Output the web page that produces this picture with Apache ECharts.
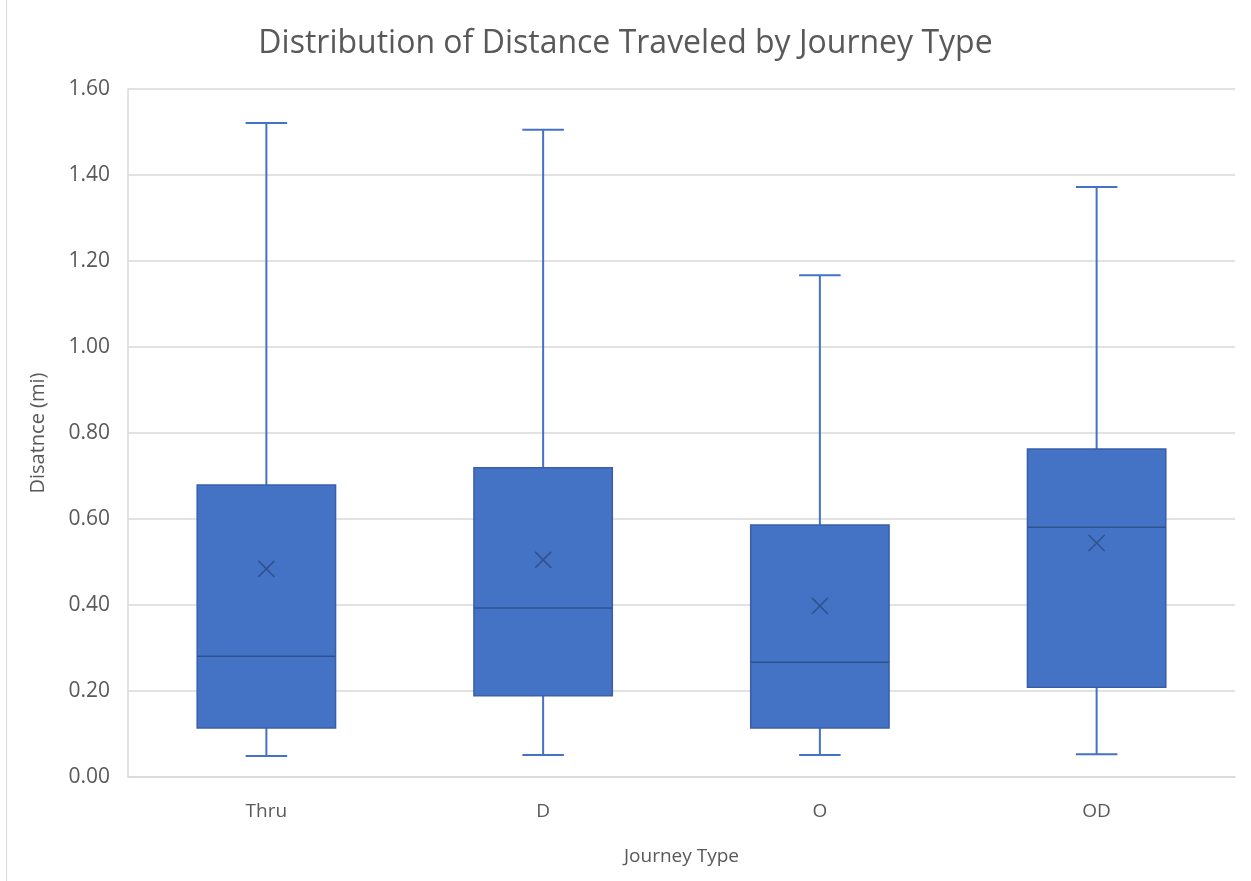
<!DOCTYPE html>
<html>
<head>
<meta charset="utf-8">
<title>Distribution of Distance Traveled by Journey Type</title>
<script src="https://cdn.jsdelivr.net/npm/echarts@6/dist/echarts.min.js"></script>
<style>
  html, body { margin: 0; padding: 0; background: #ffffff; }
  #chart { width: 1251px; height: 881px; }
</style>
</head>
<body>
<div id="chart"></div>
<script>
// Journey types along the x axis
const categories = ['Thru', 'D', 'O', 'OD'];

// Five-number summaries per journey type (miles)
const minimums  = [0.049, 0.051, 0.051, 0.053];
const quartile1 = [0.114, 0.189, 0.114, 0.209];
const medians   = [0.281, 0.393, 0.267, 0.581];
const quartile3 = [0.679, 0.719, 0.586, 0.763];
const maximums  = [1.521, 1.505, 1.167, 1.372];

// Mean distance per journey type (drawn as an X marker)
const means = [0.484, 0.505, 0.398, 0.544];

// Y axis tick settings
const yMin = 0;
const yMax = 1.6;
const yStep = 0.2;

const FONT = '"Open Sans", "Noto Sans", sans-serif';
const TEXT = '#595959';
const BOX_FILL = '#4472C4';
const BOX_EDGE = '#3A5FA8';
const MEDIAN_LINE = '#2F528F';

const boxData = categories.map((c, i) => [
  i, minimums[i], quartile1[i], medians[i], quartile3[i], maximums[i], means[i]
]);

function renderBox(params, api) {
  const idx = api.value(0);
  const band = api.size([1, 0])[0];
  const boxW = band * 0.5;
  const capW = band * 0.15;
  const pMin = api.coord([idx, api.value(1)]);
  const pQ1 = api.coord([idx, api.value(2)]);
  const pMed = api.coord([idx, api.value(3)]);
  const pQ3 = api.coord([idx, api.value(4)]);
  const pMax = api.coord([idx, api.value(5)]);
  const pMean = api.coord([idx, api.value(6)]);
  const x = pMed[0];
  const whisker = { stroke: BOX_FILL, lineWidth: 2 };
  const xs = 8;
  return {
    type: 'group',
    children: [
      { type: 'line', shape: { x1: x, y1: pQ3[1], x2: x, y2: pMax[1] }, style: whisker },
      { type: 'line', shape: { x1: x, y1: pQ1[1], x2: x, y2: pMin[1] }, style: whisker },
      { type: 'line', shape: { x1: x - capW / 2, y1: pMax[1], x2: x + capW / 2, y2: pMax[1] }, style: whisker },
      { type: 'line', shape: { x1: x - capW / 2, y1: pMin[1], x2: x + capW / 2, y2: pMin[1] }, style: whisker },
      {
        type: 'rect',
        shape: { x: x - boxW / 2, y: pQ3[1], width: boxW, height: pQ1[1] - pQ3[1] },
        style: { fill: BOX_FILL, stroke: BOX_EDGE, lineWidth: 1.5 }
      },
      { type: 'line', shape: { x1: x - boxW / 2, y1: pMed[1], x2: x + boxW / 2, y2: pMed[1] }, style: { stroke: MEDIAN_LINE, lineWidth: 1.5 } },
      { type: 'line', shape: { x1: pMean[0] - xs, y1: pMean[1] - xs, x2: pMean[0] + xs, y2: pMean[1] + xs }, style: { stroke: MEDIAN_LINE, lineWidth: 1.5 } },
      { type: 'line', shape: { x1: pMean[0] - xs, y1: pMean[1] + xs, x2: pMean[0] + xs, y2: pMean[1] - xs }, style: { stroke: MEDIAN_LINE, lineWidth: 1.5 } }
    ]
  };
}

const chart = echarts.init(document.getElementById('chart'), null, { renderer: 'canvas' });

chart.setOption({
  backgroundColor: '#ffffff',
  animation: false,
  title: {
    text: 'Distribution of Distance Traveled by Journey Type',
    left: 'center',
    top: 23,
    textStyle: { fontFamily: FONT, fontSize: 32, fontWeight: 'normal', color: TEXT }
  },
  grid: { left: 128, right: 16, top: 89, bottom: 104 },
  xAxis: {
    type: 'category',
    data: categories,
    name: 'Journey Type',
    nameLocation: 'middle',
    nameGap: 70,
    nameTextStyle: { fontFamily: FONT, fontSize: 19, color: TEXT },
    axisLine: { show: true, lineStyle: { color: '#D9D9D9', width: 1.5 } },
    axisTick: { show: false },
    axisLabel: { fontFamily: FONT, fontSize: 19, color: TEXT, margin: 25 },
    splitLine: { show: false }
  },
  yAxis: {
    type: 'value',
    min: yMin,
    max: yMax,
    interval: yStep,
    name: 'Disatnce (mi)',
    nameLocation: 'middle',
    nameGap: 80,
    nameRotate: 90,
    nameTextStyle: { fontFamily: FONT, fontSize: 20, color: TEXT },
    axisLine: { show: true, lineStyle: { color: '#D9D9D9', width: 1.5 } },
    axisTick: { show: false },
    axisLabel: {
      fontFamily: FONT, fontSize: 21, color: TEXT, margin: 18,
      formatter: v => v.toFixed(2)
    },
    splitLine: { show: true, lineStyle: { color: '#D9D9D9', width: 1.5 } }
  },
  graphic: [
    {
      type: 'line',
      shape: { x1: 6.5, y1: 0, x2: 6.5, y2: 881 },
      style: { stroke: '#D9D9D9', lineWidth: 1 }
    }
  ],
  series: [
    {
      type: 'custom',
      renderItem: renderBox,
      encode: { x: 0, y: [1, 2, 3, 4, 5, 6] },
      data: boxData,
      z: 3
    }
  ]
});
</script>
</body>
</html>
